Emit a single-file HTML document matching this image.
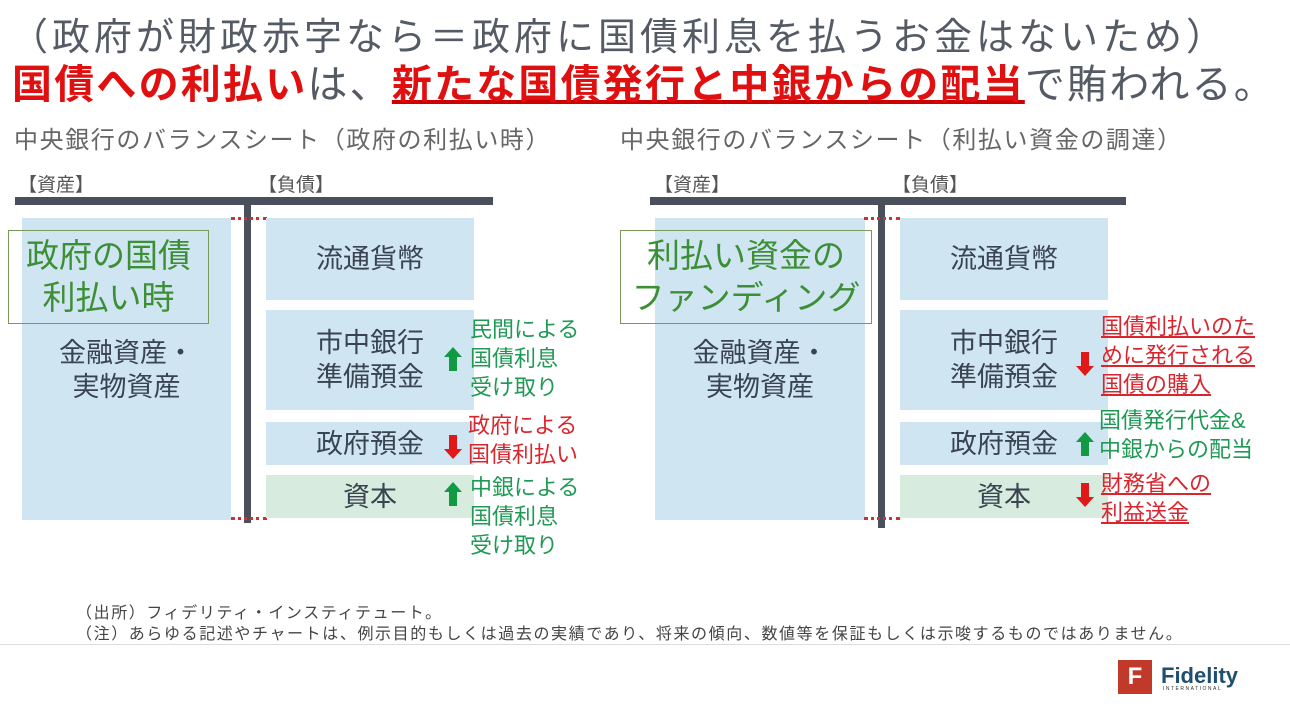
<!DOCTYPE html>
<html><head><meta charset="utf-8"><style>
body{margin:0;width:1290px;height:709px;background:#fff;position:relative;overflow:hidden;font-family:"Liberation Sans","Noto Sans CJK JP",sans-serif;color:#3a4350}
.a{position:absolute;white-space:nowrap}
.box{position:absolute;background:#cfe5f2;display:flex;align-items:center;justify-content:center;text-align:center;font-size:27px;line-height:34px;color:#3a4350}
.cap{background:#d7ecdf}
.bar{position:absolute;background:#4a4f5c}
.dot{position:absolute;height:0;border-top:3px dotted #d03030}
.g{color:#1f9a55}.r{color:#d9262e}
.ann{position:absolute;font-size:22px;line-height:29px;white-space:nowrap}
.u{text-decoration:underline}
</style></head><body>
<div class="a" style="left:10px;top:6px;font-size:38px;letter-spacing:4px;color:#555b65">（政府が財政赤字なら＝政府に国債利息を払うお金はないため）</div>
<div class="a" style="left:12px;top:52px;font-size:40px;letter-spacing:2.2px;font-weight:bold;color:#e01010">国債への利払い<span style="color:#555b65;font-weight:normal">は、</span><span style="text-decoration:underline;text-decoration-color:#c00">新たな国債発行と中銀からの配当</span><span style="color:#555b65;font-weight:normal">で賄われる。</span></div>
<div class="a" style="left:14px;top:120px;font-size:24px;letter-spacing:1.6px;color:#666">中央銀行のバランスシート（政府の利払い時）</div>
<div class="a" style="left:620px;top:120px;font-size:24px;letter-spacing:1.6px;color:#666">中央銀行のバランスシート（利払い資金の調達）</div>

<!-- left -->
<div class="a" style="left:18px;top:170px;font-size:19px;color:#555">【資産】</div>
<div class="a" style="left:258px;top:170px;font-size:19px;color:#555">【負債】</div>
<div class="bar" style="left:15px;top:197px;width:478px;height:8px"></div>
<div class="box" style="left:22px;top:218px;width:209px;height:302px;align-items:flex-start"><div style="margin-top:118px">金融資産・<br>実物資産</div></div>
<div class="a" style="left:8px;top:230px;width:199px;height:92px;border:1px solid #7a9a5a;font-size:33px;line-height:42px;color:#3d8f35;text-align:center;white-space:normal;display:flex;align-items:center;justify-content:center">政府の国債<br>利払い時</div>
<div class="bar" style="left:244px;top:205px;width:7px;height:318px"></div>
<div class="dot" style="left:231px;top:217px;width:36px"></div>
<div class="dot" style="left:231px;top:517px;width:36px"></div>
<div class="box" style="left:266px;top:218px;width:208px;height:82px">流通貨幣</div>
<div class="box" style="left:266px;top:310px;width:208px;height:100px">市中銀行<br>準備預金</div>
<div class="box" style="left:266px;top:422px;width:208px;height:43px">政府預金</div>
<div class="box cap" style="left:266px;top:475px;width:208px;height:43px">資本</div>
<svg class="a" style="left:443px;top:340px" width="20" height="200">
<path d="M10 7 L19 17 L14 17 L14 31 L6 31 L6 17 L1 17Z" fill="#119944"/>
<path d="M10 119 L19 109 L14 109 L14 95 L6 95 L6 109 L1 109Z" fill="#e01818"/>
<path d="M10 142 L19 152 L14 152 L14 166 L6 166 L6 152 L1 152Z" fill="#119944"/>
</svg>
<div class="ann g" style="left:470px;top:315px">民間による<br>国債利息<br>受け取り</div>
<div class="ann r" style="left:468px;top:411px">政府による<br>国債利払い</div>
<div class="ann g" style="left:470px;top:473px">中銀による<br>国債利息<br>受け取り</div>

<!-- right -->
<div class="a" style="left:654px;top:170px;font-size:19px;color:#555">【資産】</div>
<div class="a" style="left:892px;top:170px;font-size:19px;color:#555">【負債】</div>
<div class="bar" style="left:650px;top:197px;width:476px;height:8px"></div>
<div class="box" style="left:655px;top:218px;width:210px;height:302px;align-items:flex-start"><div style="margin-top:118px">金融資産・<br>実物資産</div></div>
<div class="a" style="left:620px;top:230px;width:250px;height:92px;border:1px solid #7a9a5a;font-size:33px;line-height:42px;color:#3d8f35;text-align:center;white-space:normal;display:flex;align-items:center;justify-content:center">利払い資金の<br>ファンディング</div>
<div class="bar" style="left:878px;top:205px;width:7px;height:323px"></div>
<div class="dot" style="left:864px;top:217px;width:36px"></div>
<div class="dot" style="left:864px;top:517px;width:36px"></div>
<div class="box" style="left:900px;top:218px;width:208px;height:82px">流通貨幣</div>
<div class="box" style="left:900px;top:310px;width:208px;height:100px">市中銀行<br>準備預金</div>
<div class="box" style="left:900px;top:422px;width:208px;height:43px">政府預金</div>
<div class="box cap" style="left:900px;top:475px;width:208px;height:43px">資本</div>
<svg class="a" style="left:1075px;top:340px" width="20" height="200">
<path d="M10 36 L19 26 L14 26 L14 12 L6 12 L6 26 L1 26Z" fill="#e01818"/>
<path d="M10 92 L19 102 L14 102 L14 116 L6 116 L6 102 L1 102Z" fill="#119944"/>
<path d="M10 167 L19 157 L14 157 L14 143 L6 143 L6 157 L1 157Z" fill="#e01818"/>
</svg>
<div class="ann r u" style="left:1101px;top:312px;font-size:22px;line-height:29px">国債利払いのた<br>めに発行される<br>国債の購入</div>
<div class="ann g" style="left:1099px;top:406px;font-size:22px;line-height:29px">国債発行代金&amp;<br>中銀からの配当</div>
<div class="ann r u" style="left:1101px;top:469px;font-size:22px;line-height:29px">財務省への<br>利益送金</div>

<div class="a" style="left:76px;top:599px;font-size:16px;letter-spacing:1.6px;color:#444">（出所）フィデリティ・インスティテュート。</div>
<div class="a" style="left:76px;top:620px;font-size:16px;letter-spacing:1.6px;color:#444">（注）あらゆる記述やチャートは、例示目的もしくは過去の実績であり、将来の傾向、数値等を保証もしくは示唆するものではありません。</div>
<div class="a" style="left:0;top:644px;width:1290px;height:1px;background:#ddd"></div>
<div class="a" style="left:1118px;top:660px;width:34px;height:34px;background:#c0392b;color:#fff;font-size:24px;font-weight:bold;text-align:center;line-height:34px">F</div>
<div class="a" style="left:1161px;top:663px;font-size:22px;font-weight:bold;color:#1f4e6e">Fidelity</div>
<div class="a" style="left:1163px;top:686px;font-size:5px;letter-spacing:1.5px;color:#333">INTERNATIONAL</div>
</body></html>
